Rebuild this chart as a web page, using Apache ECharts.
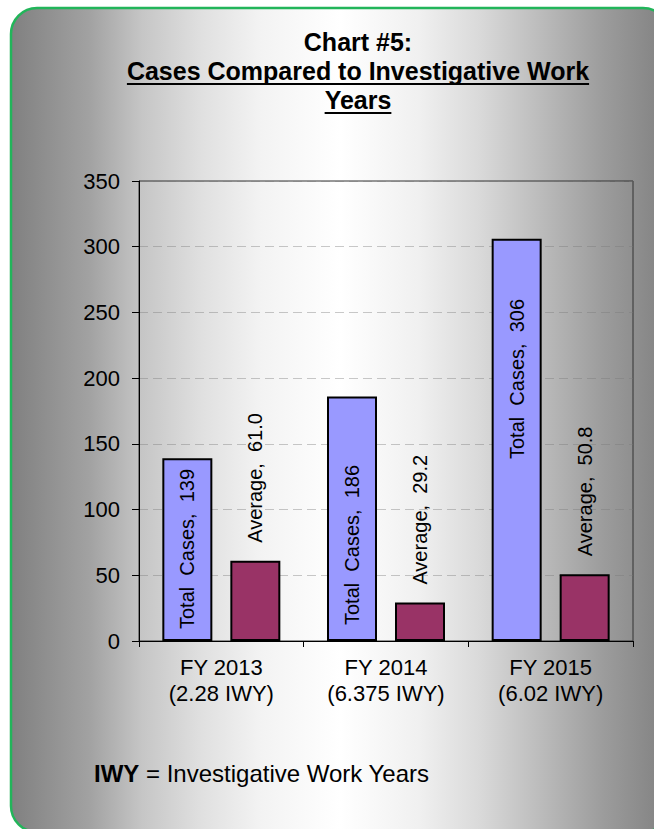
<!DOCTYPE html>
<html>
<head>
<meta charset="utf-8">
<script src="https://cdn.jsdelivr.net/npm/echarts@6/dist/echarts.min.js"></script>
<style>
  html, body { margin: 0; padding: 0; background: #ffffff; }
  #chart { width: 654px; height: 829px; }
</style>
</head>
<body>
<div id="chart"></div>
<script>
// Fiscal years with their investigative work years
const categories = ['FY 2013\n(2.28 IWY)', 'FY 2014\n(6.375 IWY)', 'FY 2015\n(6.02 IWY)'];
const totalCases = [139, 186, 306];
const averageCases = [61.0, 29.2, 50.8];
const seriesNames = ['Total Cases', 'Average'];
const yAxisRange = { min: 0, max: 350, interval: 50 };

const titleLines = ['Chart #5:', 'Cases Compared to Investigative Work', 'Years'];
const footnoteKey = 'IWY';
const footnoteText = ' = Investigative Work Years';

// how far each "Total Cases" label sits above the bar base (px)
const totalLabelLift = [12, 16, 182];

const FONT = '"Liberation Sans", Arial, Helvetica, sans-serif';
const chart = echarts.init(document.getElementById('chart'), null, { renderer: 'svg' });

function textWidth(str, font) {
  const c = document.createElement('canvas').getContext('2d');
  c.font = font;
  return c.measureText(str).width;
}

const titleFont = 'bold 25px ' + FONT;
const titleX = 358;
const titleY = [42, 71, 100];
const titleGraphics = [];
titleLines.forEach((line, i) => {
  titleGraphics.push({
    type: 'text', x: titleX, y: titleY[i], z: 10,
    style: { text: line, fill: '#000', font: titleFont, align: 'center', verticalAlign: 'middle' }
  });
  if (i > 0) {
    const w = textWidth(line, titleFont);
    titleGraphics.push({
      type: 'line', z: 10,
      shape: { x1: titleX - w / 2, y1: titleY[i] + 13, x2: titleX + w / 2, y2: titleY[i] + 13 },
      style: { stroke: '#000', lineWidth: 2 }
    });
  }
});

const option = {
  animation: false,
  graphic: [
    {
      type: 'rect', z: -10, silent: true,
      shape: { x: 11, y: 8, width: 658, height: 824, r: 26 },
      style: {
        fill: new echarts.graphic.LinearGradient(0, 0, 1, 0, [
          { offset: 0, color: '#808080' },
          { offset: 0.12, color: '#a2a2a2' },
          { offset: 0.2, color: '#c6c6c6' },
          { offset: 0.29, color: '#e0e0e0' },
          { offset: 0.38, color: '#f3f3f3' },
          { offset: 0.5, color: '#ffffff' },
          { offset: 0.62, color: '#f0f0f0' },
          { offset: 0.71, color: '#dadada' },
          { offset: 0.8, color: '#bdbdbd' },
          { offset: 0.9, color: '#9c9c9c' },
          { offset: 1, color: '#808080' }
        ]),
        stroke: '#22b55a',
        lineWidth: 2.5
      }
    },
    ...titleGraphics,
    {
      type: 'text', x: 94, y: 773, z: 10,
      style: {
        text: '{b|' + footnoteKey + '}{r|' + footnoteText + '}',
        verticalAlign: 'middle',
        rich: {
          b: { fontFamily: FONT, fontSize: 24, fontWeight: 'bold', fill: '#000' },
          r: { fontFamily: FONT, fontSize: 24, fill: '#000' }
        }
      }
    }
  ],
  grid: {
    left: 139, right: 21, top: 181, bottom: 188,
    show: true, borderColor: '#333', borderWidth: 1, backgroundColor: 'transparent'
  },
  xAxis: {
    type: 'category',
    data: categories,
    axisLine: { lineStyle: { color: '#000', width: 1 } },
    axisTick: { show: true, length: 6, lineStyle: { color: '#000' } },
    axisLabel: { color: '#000', fontFamily: FONT, fontSize: 22, lineHeight: 26, margin: 13 }
  },
  yAxis: {
    type: 'value',
    min: yAxisRange.min, max: yAxisRange.max, interval: yAxisRange.interval,
    axisLine: { show: true, lineStyle: { color: '#000', width: 1 } },
    axisTick: { show: true, length: 7, lineStyle: { color: '#000' } },
    axisLabel: { color: '#000', fontFamily: FONT, fontSize: 22, margin: 19 },
    splitLine: { show: true, lineStyle: { color: 'rgba(120,120,120,0.4)', type: [9, 5], width: 1 } }
  },
  series: [
    {
      name: seriesNames[0],
      type: 'bar',
      barWidth: 50,
      barGap: '36%',
      data: totalCases.map((v, i) => ({
        value: v,
        label: { distance: totalLabelLift[i] }
      })),
      itemStyle: { color: '#9999ff', borderColor: '#000', borderWidth: 2 },
      label: {
        show: true, position: 'insideBottom', rotate: 90,
        align: 'left', verticalAlign: 'middle',
        color: '#000', fontFamily: FONT, fontSize: 20,
        formatter: p => 'Total  Cases,  ' + p.value
      }
    },
    {
      name: seriesNames[1],
      type: 'bar',
      barWidth: 50,
      barGap: '36%',
      data: averageCases,
      itemStyle: { color: '#993366', borderColor: '#000', borderWidth: 2 },
      label: {
        show: true, position: 'top', distance: 18, rotate: 90,
        align: 'left', verticalAlign: 'middle',
        color: '#000', fontFamily: FONT, fontSize: 20,
        formatter: p => 'Average,  ' + Number(p.value).toFixed(1)
      }
    }
  ]
};

chart.setOption(option);
</script>
</body>
</html>
